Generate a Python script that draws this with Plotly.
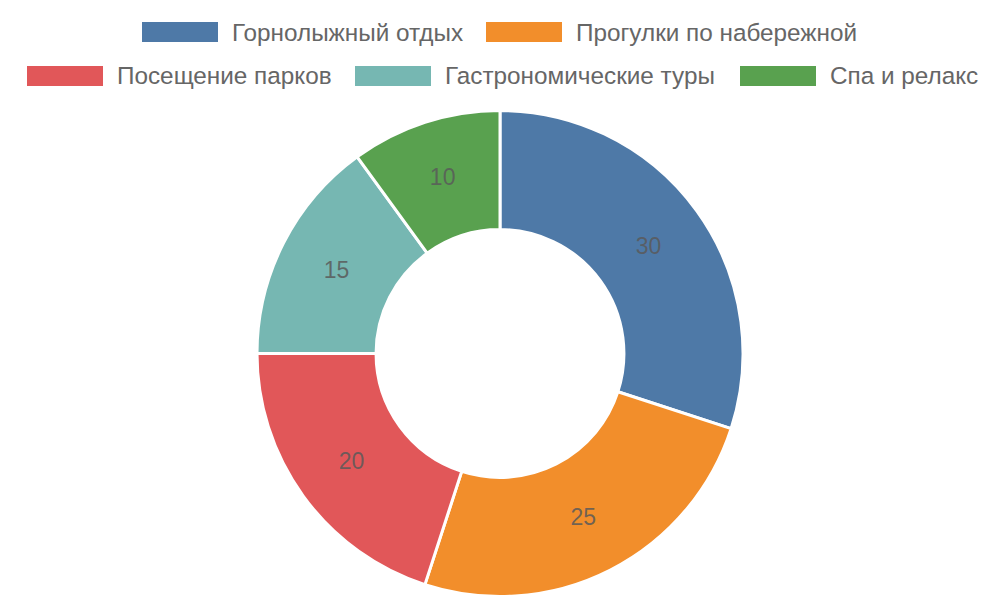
import plotly.graph_objects as go

# Data
labels = ["Горнолыжный отдых", "Прогулки по набережной", "Посещение парков",
          "Гастрономические туры", "Спа и релакс"]
values = [30, 25, 20, 15, 10]
colors = ["#4e79a7", "#f28e2b", "#e15759", "#76b7b2", "#59a14f"]

W, H = 1000, 600
OFF = 8  # page body margin in the browser


def px(x):
    return (x - OFF) / W


def py(y):
    return 1 - (y - OFF) / H


fig = go.Figure()

# Donut
fig.add_trace(go.Pie(
    labels=labels,
    values=values,
    hole=0.51,
    sort=False,
    direction="clockwise",
    rotation=0,
    marker=dict(colors=colors, line=dict(color="white", width=3)),
    textinfo="value",
    textposition="inside",
    insidetextorientation="horizontal",
    textfont=dict(family="Liberation Sans, Arial, sans-serif", size=23,
                  color="rgba(90,90,90,0.85)"),
    domain=dict(x=[px(257), px(743)], y=[py(597), py(110)]),
    showlegend=False,
))

# Hand-built legend: two centred rows with wide swatches
legend_rows = [
    [(0, 142, 232), (1, 486, 576)],
    [(2, 27, 117), (3, 355, 445), (4, 740, 830)],
]
row_y = [32, 76]
shapes = []
annotations = []
for row, cy in zip(legend_rows, row_y):
    for idx, sx, tx in row:
        shapes.append(dict(
            type="rect", xref="paper", yref="paper",
            x0=px(sx), x1=px(sx + 76),
            y0=py(cy + 10), y1=py(cy - 10),
            fillcolor=colors[idx], line=dict(width=0),
        ))
        annotations.append(dict(
            x=px(tx - 2), y=py(cy), xref="paper", yref="paper",
            text=labels[idx], showarrow=False,
            xanchor="left", yanchor="middle",
            font=dict(family="Liberation Sans, Arial, sans-serif", size=24.3,
                      color="#666666"),
        ))

fig.update_layout(
    width=W, height=H,
    margin=dict(l=0, r=0, t=0, b=0),
    paper_bgcolor="white",
    plot_bgcolor="white",
    shapes=shapes,
    annotations=annotations,
)

fig.write_html("out.html")
